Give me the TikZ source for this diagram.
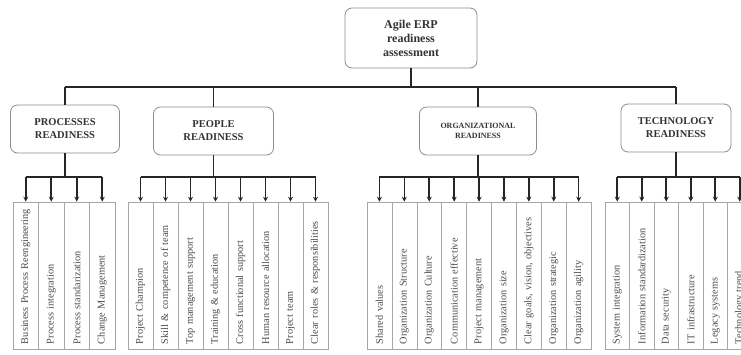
\documentclass[tikz,border=0pt]{standalone}
\usepackage{fontspec}
\setmainfont{Liberation Serif}
\usetikzlibrary{arrows.meta}
\begin{document}
\begin{tikzpicture}[x=1pt,y=-1pt,
  hbox/.style={draw=black!45, line width=0.8pt, rounded corners=7pt, align=center,
    font=\bfseries\fontsize{10.5}{13}\selectfont, text=black!80, inner sep=0pt},
  col/.style={draw=black!35, line width=0.6pt, rotate=90, minimum height=#1,
    text width=137pt, inner xsep=5pt, inner ysep=0pt, align=left,
    font=\fontsize{10.3}{12}\selectfont, text=black!70, anchor=center},
  conn/.style={line width=1.6pt, black!85},
  arr/.style={conn, -{Stealth[length=5pt,width=5pt]}}]
\useasboundingbox (0,0) rectangle (741,354);
\clip (0,0) rectangle (741,354);
\coordinate (topbus) at (0,87);
\coordinate (subbus) at (0,177);

% header boxes
\node[hbox, minimum width=132pt, minimum height=60pt,
  font=\bfseries\fontsize{12}{14}\selectfont] (root) at (411,38) {Agile ERP\\readiness\\assessment};
\node[hbox, minimum width=109pt, minimum height=48pt] (proc) at (65,129) {PROCESSES\\READINESS};
\node[hbox, minimum width=120pt, minimum height=48pt] (peop) at (213.5,131) {PEOPLE\\READINESS};
\node[hbox, minimum width=117pt, minimum height=48pt,
  font=\bfseries\fontsize{8}{10}\selectfont] (org) at (478,131) {ORGANIZATIONAL\\READINESS};
\node[hbox, minimum width=110pt, minimum height=48pt] (tech) at (676,128) {TECHNOLOGY\\READINESS};

% top connectors
\draw[conn] (root.south) -- (root.south |- topbus);
\draw[conn] (proc.north |- topbus) -- (tech.north |- topbus);
\foreach \n in {proc,peop,org,tech} \draw[conn] (\n.north |- topbus) -- (\n.north);

% columns
\foreach \t [count=\i] in {Business Process Reengineering, Process integration,
  Process standarization, Change Management}
  \node[col=25.5] (p\i) at ({13+25.5*(\i-0.5)},275.5) {\t};
\foreach \t [count=\i] in {Project Champion, Skill  \& competence of team,
  Top management support, Training \& education, Cross functional support,
  Human resource allocation, Project team, Clear roles \& responsibilities}
  \node[col=25] (q\i) at ({128+25*(\i-0.5)},275.5) {\t};
\foreach \t [count=\i] in {Shared values, Organization Structure, Organization Culture,
  Communication effective, Project management, Organization size,
  {Clear goals, vision, objectives}, Organization strategic, Organization agility}
  \node[col=24.9] (o\i) at ({367+24.9*(\i-0.5)},275.5) {\t};
\foreach \t [count=\i] in {System integration, Information standardization,
  Data security, IT infrastructure, Legacy systems, Technology trend}
  \node[col=24.5] (t\i) at ({605+24.5*(\i-0.5)},275.5) {\t};

% sub connectors
\draw[conn] (proc.south) -- (proc.south |- subbus);
\draw[conn] (p1.east |- subbus) -- (p4.east |- subbus);
\foreach \i in {1,...,4} \draw[arr] (p\i.east |- subbus) -- (p\i.east);
\draw[conn] (peop.south) -- (peop.south |- subbus);
\draw[conn] (q1.east |- subbus) -- (q8.east |- subbus);
\foreach \i in {1,...,8} \draw[arr] (q\i.east |- subbus) -- (q\i.east);
\draw[conn] (org.south) -- (org.south |- subbus);
\draw[conn] (o1.east |- subbus) -- (o9.east |- subbus);
\foreach \i in {1,...,9} \draw[arr] (o\i.east |- subbus) -- (o\i.east);
\draw[conn] (tech.south) -- (tech.south |- subbus);
\draw[conn] (t1.east |- subbus) -- (t6.east |- subbus);
\foreach \i in {1,...,6} \draw[arr] (t\i.east |- subbus) -- (t\i.east);
\end{tikzpicture}
\end{document}
